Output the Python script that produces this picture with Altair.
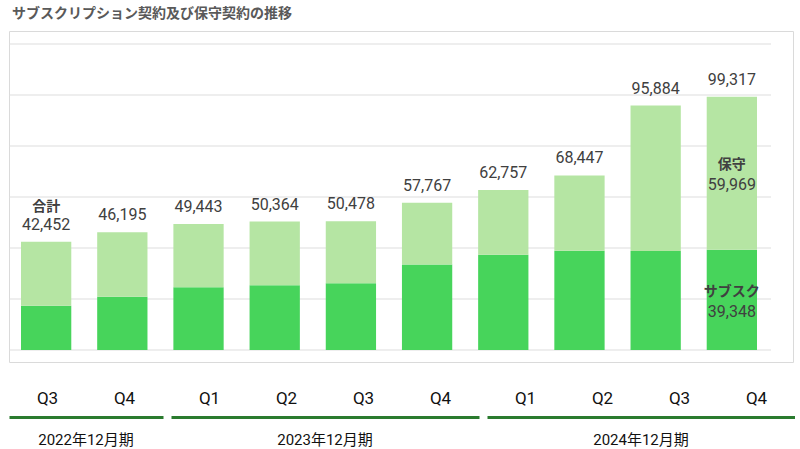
import altair as alt
import pandas as pd

# ---- data ----
periods = ["2022Q3", "2022Q4", "2023Q1", "2023Q2", "2023Q3", "2023Q4",
           "2024Q1", "2024Q2", "2024Q3", "2024Q4"]
quarter_labels = ["Q3", "Q4", "Q1", "Q2", "Q3", "Q4", "Q1", "Q2", "Q3", "Q4"]
fiscal_years = ["2022年12月期", "2022年12月期",
                "2023年12月期", "2023年12月期", "2023年12月期", "2023年12月期",
                "2024年12月期", "2024年12月期", "2024年12月期", "2024年12月期"]
fy_order = ["2022年12月期", "2023年12月期", "2024年12月期"]
totals = [42452, 46195, 49443, 50364, 50478, 57767, 62757, 68447, 95884, 99317]
subscription = [17400, 20900, 24600, 25400, 26200, 33500, 37400, 38900, 38800, 39348]
maintenance = [t - s for t, s in zip(totals, subscription)]
grid_values = [0, 20000, 40000, 60000, 80000, 100000, 120000]
series_names = ["サブスク", "保守"]
total_name = "合計"
title_text = "サブスクリプション契約及び保守契約の推移"

# ---- styling ----
SUB_COLOR = "#47D45B"
MAINT_COLOR = "#B5E5A3"
GREEN_LINE = "#2A7B2E"
GRID = "#DDDDDD"
NUM_FONT = "Liberation Sans Narrow, Roboto, Noto Sans CJK JP, sans-serif"
JP_FONT = "Noto Sans CJK JP, sans-serif"
TXT = "#404040"

# ---- tables ----
rows = []
for i, p in enumerate(periods):
    rows.append({"period": p, "type": series_names[0], "value": subscription[i], "ord": 0})
    rows.append({"period": p, "type": series_names[1], "value": maintenance[i], "ord": 1})
long_df = pd.DataFrame(rows)

tot_df = pd.DataFrame({"period": periods, "total": totals})
gokei_df = pd.DataFrame({"period": [periods[0]], "total": [totals[0]], "label": [total_name]})
inner_df = pd.DataFrame({
    "period": [periods[-1], periods[-1]],
    "name": [series_names[1], series_names[0]],
    "value": [maintenance[-1], subscription[-1]],
    "mid": [subscription[-1] + maintenance[-1] / 2, subscription[-1] / 2],
})
grid_df = pd.DataFrame({"g": grid_values})
bottom_df = pd.DataFrame({"period": periods, "q": quarter_labels, "fy": fiscal_years})

yscale = alt.Scale(domain=[-4700, 125100], nice=False, zero=False)
xscale = alt.Scale(paddingInner=0.34, paddingOuter=0.315, align=0.25)
X = alt.X("period:N", sort=periods, axis=None, scale=xscale)

grid = alt.Chart(grid_df).mark_rule(color=GRID, strokeWidth=1).encode(
    y=alt.Y("g:Q", scale=yscale, axis=None),
    x=alt.value(0), x2=alt.value(762),
)

bars = alt.Chart(long_df).mark_bar().encode(
    x=X,
    y=alt.Y("value:Q", stack="zero", scale=yscale, axis=None),
    color=alt.Color("type:N", scale=alt.Scale(domain=series_names, range=[SUB_COLOR, MAINT_COLOR]), legend=None),
    order=alt.Order("ord:Q"),
)

tot_text = alt.Chart(tot_df).mark_text(
    font=NUM_FONT, fontSize=16, color=TXT, baseline="alphabetic", dy=-12
).encode(x=X, y=alt.Y("total:Q", scale=yscale, axis=None),
         text=alt.Text("total:Q", format=","))

gokei = alt.Chart(gokei_df).mark_text(
    font=JP_FONT, fontSize=14, fontWeight="bold", color=TXT, baseline="alphabetic", dy=-31
).encode(x=X, y=alt.Y("total:Q", scale=yscale, axis=None), text="label:N")

inner_names = alt.Chart(inner_df).mark_text(
    font=JP_FONT, fontSize=14, fontWeight="bold", color=TXT, baseline="middle", dy=-8
).encode(x=X, y=alt.Y("mid:Q", scale=yscale, axis=None), text="name:N")

inner_vals = alt.Chart(inner_df).mark_text(
    font=NUM_FONT, fontSize=16, color=TXT, baseline="middle", dy=12
).encode(x=X, y=alt.Y("mid:Q", scale=yscale, axis=None),
         text=alt.Text("value:Q", format=","))

top = alt.layer(grid, bars, tot_text, gokei, inner_names, inner_vals).properties(
    width=784, height=331,
    view=alt.ViewBackground(stroke="#DADADA", strokeWidth=1),
)


def panel(fy, width):
    return alt.Chart(bottom_df).transform_filter(alt.datum.fy == fy).mark_bar(opacity=0).encode(
        x=alt.X("q:N", sort=None,
                scale=alt.Scale(type="band", paddingInner=0, paddingOuter=0),
                axis=alt.Axis(orient="top", title=None, domainColor=GREEN_LINE, domainWidth=3,
                              ticks=False, tickSize=0, labelPadding=10, labelFont=NUM_FONT,
                              labelFontSize=17, labelColor="#111111", labelAngle=0, grid=False)),
    ).properties(
        width=width, height=1,
        title=alt.TitleParams(fy, orient="bottom", anchor="middle", font=NUM_FONT, fontSize=15,
                              fontWeight="normal", color="#111111", offset=15),
        view=alt.ViewBackground(strokeOpacity=0),
    )


bottom = alt.hconcat(
    panel(fy_order[0], 154), panel(fy_order[1], 308), panel(fy_order[2], 308), spacing=8
).resolve_scale(x="independent")

chart = alt.vconcat(
    top, bottom, spacing=26,
    title=alt.TitleParams(title_text, anchor="start", font=JP_FONT, fontSize=14,
                          fontWeight="bold", color="#595959", offset=10, dx=4),
).resolve_scale(x="independent", y="independent", color="independent").properties(
    padding={"left": 8, "top": 6, "right": 0, "bottom": 0},
    background="white",
)

chart.save("out.html", embed_options={"renderer": "svg", "actions": False})
